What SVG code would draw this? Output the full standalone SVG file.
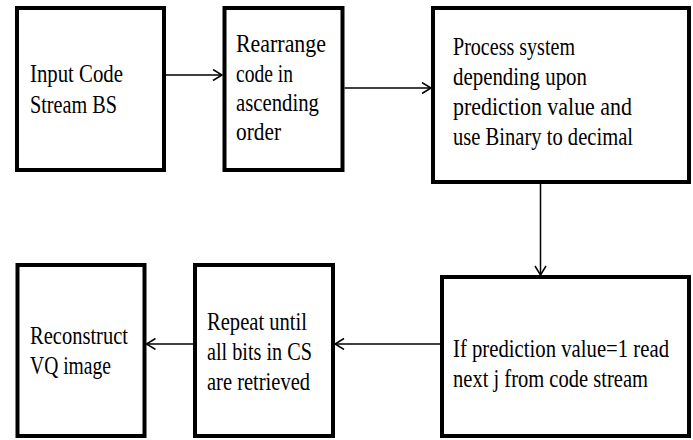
<svg xmlns="http://www.w3.org/2000/svg" width="693" height="440" viewBox="0 0 693 440" font-family="Liberation Serif, Times New Roman, serif">
  <style>
    .box { fill: #ffffff; stroke: #000000; stroke-width: 4; }
    .lbl { font-size: 26px; fill: #000000; }
    .wire { fill: none; stroke: #000000; stroke-width: 1.5; }
  </style>
  <defs>
    <marker id="arrow" markerUnits="userSpaceOnUse" markerWidth="12" markerHeight="14" refX="10" refY="6" orient="auto">
      <path d="M1,0.5 L10,6 L1,11.5" fill="none" stroke="#000000" stroke-width="1.5"/>
    </marker>
  </defs>
  <rect width="693" height="440" fill="#ffffff"/>

  <g id="connectors">
    <path class="wire" d="M166,75 H222" marker-end="url(#arrow)"/>
    <path class="wire" d="M344.5,88 H431" marker-end="url(#arrow)"/>
    <path class="wire" d="M540.5,184 V275" marker-end="url(#arrow)"/>
    <path class="wire" d="M440,344 H335" marker-end="url(#arrow)"/>
    <path class="wire" d="M193,344 H146.5" marker-end="url(#arrow)"/>
  </g>

  <g id="input-stream">
    <rect class="box" x="17" y="8" width="147" height="162"/>
    <text class="lbl" x="30" y="82" textLength="93" lengthAdjust="spacingAndGlyphs">Input Code</text>
    <text class="lbl" x="30" y="113" textLength="87" lengthAdjust="spacingAndGlyphs">Stream BS</text>
  </g>

  <g id="rearrange">
    <rect class="box" x="224.5" y="8" width="118" height="162"/>
    <text class="lbl" x="236" y="52" textLength="90" lengthAdjust="spacingAndGlyphs">Rearrange</text>
    <text class="lbl" x="236" y="82" textLength="57" lengthAdjust="spacingAndGlyphs">code in</text>
    <text class="lbl" x="236" y="111" textLength="83" lengthAdjust="spacingAndGlyphs">ascending</text>
    <text class="lbl" x="236" y="140" textLength="45" lengthAdjust="spacingAndGlyphs">order</text>
  </g>

  <g id="process-system">
    <rect class="box" x="433" y="8" width="256" height="174"/>
    <text class="lbl" x="453" y="55" textLength="122" lengthAdjust="spacingAndGlyphs">Process system</text>
    <text class="lbl" x="453" y="85" textLength="134" lengthAdjust="spacingAndGlyphs">depending upon</text>
    <text class="lbl" x="453" y="115" textLength="179" lengthAdjust="spacingAndGlyphs">prediction value and</text>
    <text class="lbl" x="453" y="145" textLength="180" lengthAdjust="spacingAndGlyphs">use Binary to decimal</text>
  </g>

  <g id="read-next">
    <rect class="box" x="442" y="277" width="247" height="159"/>
    <text class="lbl" x="453" y="357" textLength="216" lengthAdjust="spacingAndGlyphs">If prediction value=1 read</text>
    <text class="lbl" x="453" y="387" textLength="195" lengthAdjust="spacingAndGlyphs">next j from code stream</text>
  </g>

  <g id="repeat">
    <rect class="box" x="195" y="265" width="138" height="171"/>
    <text class="lbl" x="207" y="330" textLength="100" lengthAdjust="spacingAndGlyphs">Repeat until</text>
    <text class="lbl" x="207" y="360" textLength="105" lengthAdjust="spacingAndGlyphs">all bits in CS</text>
    <text class="lbl" x="207" y="390" textLength="103" lengthAdjust="spacingAndGlyphs">are retrieved</text>
  </g>

  <g id="reconstruct">
    <rect class="box" x="17.5" y="265" width="127" height="171"/>
    <text class="lbl" x="30" y="344" textLength="98" lengthAdjust="spacingAndGlyphs">Reconstruct</text>
    <text class="lbl" x="30" y="374" textLength="81" lengthAdjust="spacingAndGlyphs">VQ image</text>
  </g>
</svg>
